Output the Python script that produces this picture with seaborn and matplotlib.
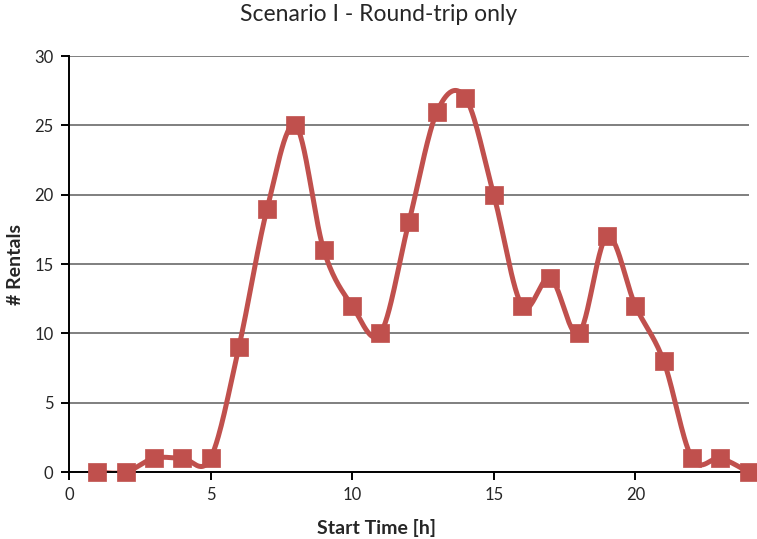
import numpy as np
import pandas as pd
import matplotlib
matplotlib.use("Agg")
import matplotlib.pyplot as plt
import seaborn as sns

hours = [1, 2, 3, 4, 5, 6, 7, 8, 9, 10, 11, 12, 13, 14, 15, 16, 17, 18, 19, 20, 21, 22, 23, 24]
rentals = [0, 0, 1, 1, 1, 9, 19, 25, 16, 12, 10, 18, 26, 27, 20, 12, 14, 10, 17, 12, 8, 1, 1, 0]
title = "Scenario I - Round-trip only"
xlabel = "Start Time [h]"
ylabel = "# Rentals"

color = "#C0504D"

def smooth(x, y, n=30):
    # Excel-like smoothing: Catmull-Rom Bezier segments
    x = np.asarray(x, float); y = np.asarray(y, float)
    px = np.concatenate([[x[0]], x, [x[-1]]])
    py = np.concatenate([[y[0]], y, [y[-1]]])
    xs, ys = [], []
    t = np.linspace(0, 1, n)
    for i in range(1, len(px) - 2):
        p0 = np.array([px[i], py[i]]); p3 = np.array([px[i + 1], py[i + 1]])
        p1 = p0 + (np.array([px[i + 1], py[i + 1]]) - np.array([px[i - 1], py[i - 1]])) / 6
        p2 = p3 - (np.array([px[i + 2], py[i + 2]]) - np.array([px[i], py[i]])) / 6
        b = ((1 - t) ** 3)[:, None] * p0 + (3 * (1 - t) ** 2 * t)[:, None] * p1 + \
            (3 * (1 - t) * t ** 2)[:, None] * p2 + (t ** 3)[:, None] * p3
        xs.extend(b[:, 0]); ys.extend(b[:, 1])
    return np.array(xs), np.array(ys)

sns.set_style("white")
plt.rcParams['font.family'] = ['Lato', 'DejaVu Sans']

fig = plt.figure(figsize=(7.57, 5.39), dpi=100)
ax = fig.add_axes([0.091, 0.124, 0.898, 0.772])

sx, sy = smooth(hours, rentals)
sns.lineplot(x=sx, y=sy, ax=ax, color=color, linewidth=3.6, sort=False, estimator=None)
df = pd.DataFrame({"h": hours, "r": rentals})
sns.scatterplot(data=df, x="h", y="r", ax=ax, marker="s", s=175, color=color,
                edgecolor=color, linewidth=0.5, zorder=5, clip_on=False)

ax.set_xlim(0, 24)
ax.set_ylim(0, 30)
ax.set_xticks([0, 5, 10, 15, 20])
ax.set_yticks([0, 5, 10, 15, 20, 25, 30])
ax.yaxis.grid(True, color="#7f7f7f", linewidth=1.4)
ax.xaxis.grid(False)
ax.set_axisbelow(True)
for s in ["top", "right"]:
    ax.spines[s].set_visible(False)
for s in ["left", "bottom"]:
    ax.spines[s].set_color("black")
    ax.spines[s].set_linewidth(1.4)
ax.tick_params(axis="both", which="major", direction="out", length=6, width=1.4,
               color="black", labelsize=12, bottom=True, left=True, pad=5)
ax.set_xlabel(xlabel, fontsize=14, fontweight="bold")
ax.xaxis.set_label_coords(0.452, -0.112)
ax.set_ylabel(ylabel, fontsize=14, fontweight="bold")
ax.yaxis.set_label_coords(-0.066, 0.5)
fig.suptitle(title, fontsize=16.5, y=0.992)

fig.savefig("out.png", dpi=100)
